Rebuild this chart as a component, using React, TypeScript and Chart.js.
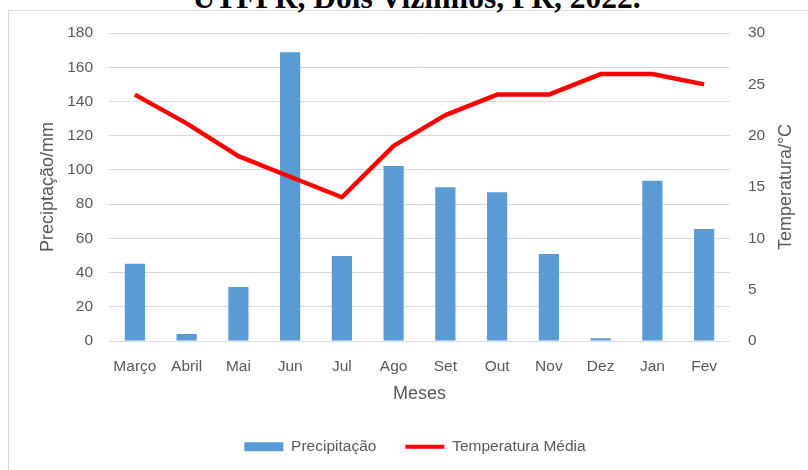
import React, { useEffect, useRef } from "react";
import { Chart, registerables } from "chart.js";

Chart.register(...registerables);

// ---- data ----
const months = ["Março", "Abril", "Mai", "Jun", "Jul", "Ago", "Set", "Out", "Nov", "Dez", "Jan", "Fev"];
const precipitation = [45.2, 4.1, 31.6, 168.7, 49.7, 102.3, 89.8, 86.9, 50.8, 1.6, 93.7, 65.5];
const temperature = [24, 21.2, 18, 16, 14, 19, 22, 24, 24, 26, 26, 25];
const precipAxis = [0, 180, 20]; // min, max, step
const tempAxis = [0, 30, 5]; // min, max, step

const titleText = "UTFPR, Dois Vizinhos, PR, 2022.";
const leftTitle = "Preciptação/mm";
const rightTitle = "Temperatura/°C";
const xTitle = "Meses";
const seriesNames = ["Precipitação", "Temperatura Média"];

const BLUE = "#5B9BD5";
const RED = "#FF0000";
const GREY = "#595959";
const FONT = "'Liberation Sans', Arial, sans-serif";

const rightTitlePlugin = {
  id: "rightTitle",
  afterDraw(chart: any) {
    const { ctx, chartArea } = chart;
    const s = chart.scales.y1;
    ctx.save();
    ctx.font = `18px ${FONT}`;
    ctx.fillStyle = GREY;
    ctx.textAlign = "center";
    ctx.textBaseline = "middle";
    ctx.translate(s.right - 22, (chartArea.top + chartArea.bottom) / 2);
    ctx.rotate(-Math.PI / 2);
    ctx.fillText(rightTitle, 0, 0);
    ctx.restore();
  },
};

export default function App() {
  const ref = useRef<HTMLCanvasElement>(null);

  useEffect(() => {
    if (!ref.current) return;
    const chart = new Chart(ref.current, {
      type: "bar",
      data: {
        labels: months,
        datasets: [
          {
            type: "bar",
            label: seriesNames[0],
            data: precipitation,
            backgroundColor: BLUE,
            borderWidth: 0,
            barPercentage: 0.39,
            categoryPercentage: 1,
            yAxisID: "y",
            order: 2,
          } as any,
          {
            type: "line",
            label: seriesNames[1],
            data: temperature,
            borderColor: RED,
            backgroundColor: RED,
            borderWidth: 4.5,
            pointRadius: 0,
            tension: 0,
            borderJoinStyle: "round",
            yAxisID: "y1",
            order: 1,
          } as any,
        ],
      },
      options: {
        responsive: false,
        animation: false,
        layout: { padding: { left: 22, right: 0, top: 33, bottom: 5.5 } },
        plugins: {
          title: { display: false },
          tooltip: { enabled: false },
          legend: {
            display: true,
            position: "bottom",
            labels: {
              usePointStyle: true,
              pointStyleWidth: 39,
              boxHeight: 9,
              padding: 29,
              color: GREY,
              font: { family: FONT, size: 15.5 },
              generateLabels: () => [
                {
                  text: seriesNames[0],
                  fillStyle: BLUE,
                  strokeStyle: BLUE,
                  lineWidth: 0,
                  pointStyle: "rect",
                  hidden: false,
                  datasetIndex: 0,
                  fontColor: GREY,
                },
                {
                  text: seriesNames[1],
                  fillStyle: RED,
                  strokeStyle: RED,
                  lineWidth: 4,
                  pointStyle: "line",
                  hidden: false,
                  datasetIndex: 1,
                  fontColor: GREY,
                },
              ],
            },
          },
        },
        scales: {
          x: {
            grid: { display: false, drawTicks: false },
            border: { display: false },
            ticks: { color: GREY, font: { family: FONT, size: 15.5 }, padding: 16, maxRotation: 0, autoSkip: false },
            title: {
              display: true,
              text: xTitle,
              color: GREY,
              font: { family: FONT, size: 18 },
              padding: { top: 0, bottom: 5.5 },
            },
            afterFit: (s: any) => {
              s.height = 69;
            },
          },
          y: {
            position: "left",
            min: precipAxis[0],
            max: precipAxis[1],
            grid: { color: "#D9D9D9", lineWidth: 1, drawTicks: false },
            border: { display: false },
            ticks: { stepSize: precipAxis[2], color: GREY, font: { family: FONT, size: 15.5 }, padding: 16 },
            title: {
              display: true,
              text: leftTitle,
              color: GREY,
              font: { family: FONT, size: 18 },
              padding: { top: 15.5, bottom: 0 },
            },
            afterFit: (s: any) => {
              s.width = 87;
            },
          },
          y1: {
            position: "right",
            min: tempAxis[0],
            max: tempAxis[1],
            grid: { display: false, drawTicks: false },
            border: { display: false },
            ticks: { stepSize: tempAxis[2], color: GREY, font: { family: FONT, size: 15.5 }, padding: 18 },
            afterFit: (s: any) => {
              s.width = 78;
            },
          },
        },
      },
      plugins: [rightTitlePlugin],
    } as any);
    return () => chart.destroy();
  }, []);

  return (
    <div
      style={{
        position: "absolute",
        left: 0,
        top: 0,
        width: 808,
        height: 470,
        overflow: "hidden",
        background: "#fff",
      }}
    >
      <div
        style={{
          position: "absolute",
          left: 8,
          top: 10,
          width: 830,
          height: 500,
          border: "1px solid #D9D9D9",
          boxSizing: "border-box",
        }}
      />
      <div
        style={{
          position: "absolute",
          left: 16.5,
          width: 800,
          top: -18.3,
          textAlign: "center",
          fontFamily: "'Liberation Serif', 'Times New Roman', serif",
          fontWeight: "bold",
          fontSize: 31.5,
          lineHeight: "31.5px",
          whiteSpace: "nowrap",
          color: "#000",
        }}
      >
        {titleText}
      </div>
      <canvas ref={ref} width={808} height={470} style={{ position: "absolute", left: 0, top: 0 }} />
    </div>
  );
}
